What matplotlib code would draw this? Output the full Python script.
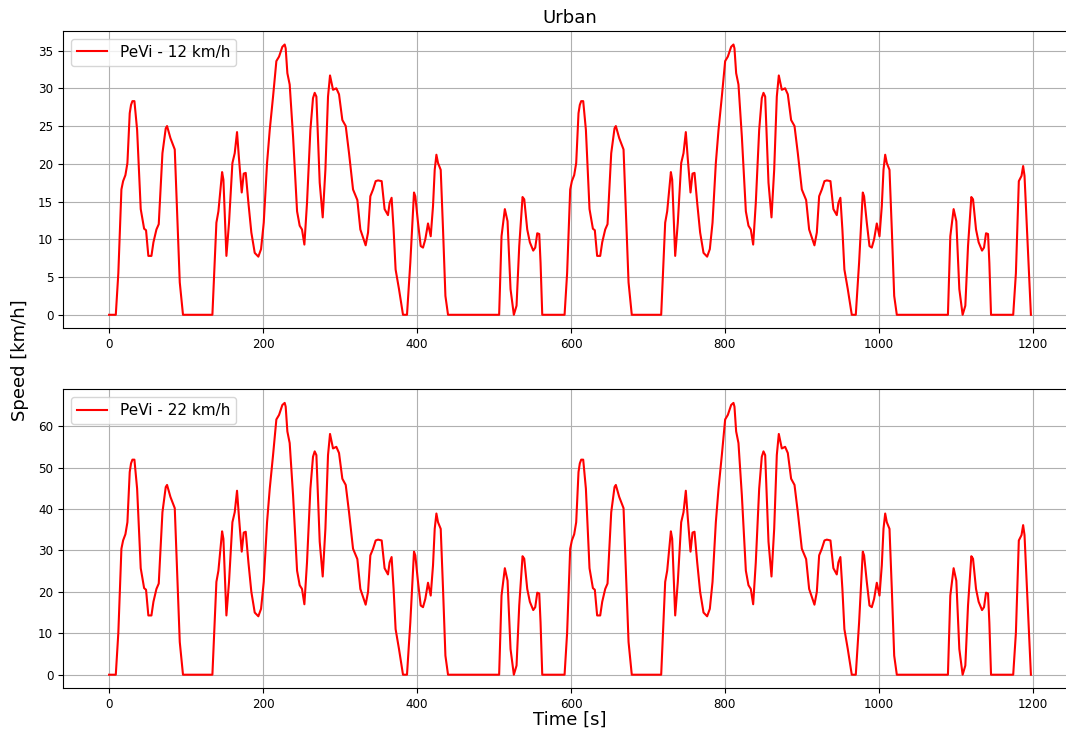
import matplotlib
matplotlib.use('Agg')
import matplotlib.pyplot as plt

# ---- time axis [s], first and second pass of the urban cycle ----
time_a = [0, 8.7, 12, 16, 18.2, 21.2, 23.8, 26.8, 28.5, 30.3,
          32.9, 36.4, 41.1, 45.5, 48, 51, 55, 57.6, 61.5, 64.5,
          69.3, 73.6, 75.3, 79.7, 85.3, 88.3, 91.8, 96, 134.2, 139.4,
          142, 146.8, 148.5, 152.4, 155.8, 160.2, 163.2, 166.2, 168.8, 172.3,
          174.9, 177.5, 181, 184.8, 189.2, 193.9, 197.4, 200.9, 205.2, 208.7,
          213, 217.3, 220.8, 225.1, 228.1, 229.4, 231.6, 234.6, 239, 244.2,
          247.6, 250.6, 253.7, 257.1, 261.5, 264.9, 267.1, 269.3, 273.6, 277.5,
          281, 284.4, 287, 290.9, 295.2, 298.7, 303, 307.4, 311.7, 316.9,
          322.5, 326.4, 330.7, 333.3, 336.4, 339.4, 342.9, 346.3, 349.4, 354.1,
          357.9, 362.3, 364.4, 367, 369.6, 372.2, 376.6, 381.8, 387, 391.3,
          396.1, 397.8, 401.3, 404.8, 407.8, 410.8, 414.3, 417.8, 420.8, 423,
          425.2, 427.3, 430.8, 433.8, 436.9, 440.3, 506.7, 509.8, 514.1, 517.6,
          521.5, 525.8, 529.3, 532.8, 537.1, 539.3, 543.2, 546.6, 551, 553.6,
          556.2, 558.8, 560.5, 562.7]

time_b = [591.7, 595, 599, 601.2, 604.2, 606.8, 609.8, 611.5, 613.3,
          615.9, 619.4, 624.1, 628.5, 631, 634, 638, 640.6, 644.5, 647.5,
          652.3, 656.6, 658.3, 662.7, 668.3, 671.3, 674.8, 679, 717.2, 722.4,
          725, 729.8, 731.5, 735.4, 738.8, 743.2, 746.2, 749.2, 751.8, 755.3,
          757.9, 760.5, 764, 767.8, 772.2, 776.9, 780.4, 783.9, 788.2, 791.7,
          796, 800.3, 803.8, 808.1, 811.1, 812.4, 814.6, 817.6, 822, 827.2,
          830.6, 833.6, 836.7, 840.1, 844.5, 847.9, 850.1, 852.3, 856.6, 860.5,
          864, 867.4, 870, 873.9, 878.2, 881.7, 886, 890.4, 894.7, 899.9,
          905.5, 909.4, 913.7, 916.3, 919.4, 922.4, 925.9, 929.3, 932.4, 937.1,
          940.9, 945.3, 947.4, 950, 952.6, 955.2, 959.6, 964.8, 970, 974.3,
          979.1, 980.8, 984.3, 987.8, 990.8, 993.8, 997.3, 1000.8, 1003.8, 1006,
          1008.2, 1010.3, 1013.8, 1016.8, 1019.9, 1023.3, 1089.7, 1092.8, 1097.1, 1100.6,
          1104.5, 1108.8, 1112.3, 1115.8, 1120.1, 1122.3, 1126.2, 1129.6, 1134, 1136.6,
          1139.2, 1141.8, 1143.5, 1145.7]

time_end = [1174.5, 1178, 1181.8, 1185.3, 1187.4, 1189.2, 1197.5]

# ---- speed [km/h], PeVi 12 km/h ----
speed12_a = [0, 0, 5.5, 16.6, 17.7, 18.5, 20.1, 26.7, 27.8, 28.3,
             28.3, 24.5, 14.0, 11.4, 11.2, 7.8, 7.8, 9.6, 11.3, 12.0,
             21.4, 24.7, 25.0, 23.4, 21.9, 13.7, 4.3, 0, 0, 12.2,
             13.7, 18.9, 17.9, 7.8, 12.2, 20.1, 21.4, 24.2, 20.6, 16.2,
             18.7, 18.8, 14.8, 10.9, 8.2, 7.7, 8.7, 12.2, 20.1, 24.5,
             28.9, 33.6, 34.2, 35.5, 35.8, 35.3, 32.0, 30.5, 23.6, 13.7,
             11.8, 11.3, 9.3, 14.8, 24.5, 28.7, 29.4, 28.9, 17.5, 12.9,
             19.2, 28.9, 31.7, 29.8, 30.0, 29.2, 25.8, 25.0, 21.4, 16.6,
             15.2, 11.3, 10.0, 9.2, 10.9, 15.7, 16.6, 17.7, 17.8, 17.7,
             14.0, 13.2, 14.8, 15.5, 11.3, 6.0, 3.4, 0, 0, 6.9,
             16.2, 15.7, 12.2, 9.1, 8.9, 10.0, 12.1, 10.4, 14.4, 19.2,
             21.2, 20.1, 19.2, 11.3, 2.5, 0, 0, 10.4, 14.0, 12.4,
             3.4, 0, 1.2, 9.1, 15.6, 15.3, 11.3, 9.6, 8.5, 8.9,
             10.8, 10.7, 6.9, 0]

speed12_b = [0, 5.5, 16.6, 17.7, 18.5, 20.1, 26.7, 27.8, 28.3,
             28.3, 24.5, 14.0, 11.4, 11.2, 7.8, 7.8, 9.6, 11.3, 12.0,
             21.4, 24.7, 25.0, 23.4, 21.9, 13.7, 4.3, 0, 0, 12.2,
             13.7, 18.9, 17.9, 7.8, 12.2, 20.1, 21.4, 24.2, 20.6, 16.2,
             18.7, 18.8, 14.8, 10.9, 8.2, 7.7, 8.7, 12.2, 20.1, 24.5,
             28.9, 33.6, 34.2, 35.5, 35.8, 35.3, 32.0, 30.5, 23.6, 13.7,
             11.8, 11.3, 9.3, 14.8, 24.5, 28.7, 29.4, 28.9, 17.5, 12.9,
             19.2, 28.9, 31.7, 29.8, 30.0, 29.2, 25.8, 25.0, 21.4, 16.6,
             15.2, 11.3, 10.0, 9.2, 10.9, 15.7, 16.6, 17.7, 17.8, 17.7,
             14.0, 13.2, 14.8, 15.5, 11.3, 6.0, 3.4, 0, 0, 6.9,
             16.2, 15.7, 12.2, 9.1, 8.9, 10.0, 12.1, 10.4, 14.4, 19.2,
             21.2, 20.1, 19.2, 11.3, 2.5, 0, 0, 10.4, 14.0, 12.4,
             3.4, 0, 1.2, 9.1, 15.6, 15.3, 11.3, 9.6, 8.5, 8.9,
             10.8, 10.7, 6.9, 0]

speed12_end = [0, 5.5, 17.7, 18.4, 19.7, 18.4, 0]

# ---- speed [km/h], PeVi 22 km/h ----
speed22_a = [0, 0, 10.1, 30.4, 32.4, 33.9, 36.8, 48.9, 51.0, 51.9,
             51.9, 44.9, 25.7, 20.9, 20.5, 14.3, 14.3, 17.6, 20.7, 22.0,
             39.2, 45.3, 45.8, 42.9, 40.2, 25.1, 7.9, 0, 0, 22.4,
             25.1, 34.6, 32.8, 14.3, 22.4, 36.8, 39.2, 44.4, 37.8, 29.7,
             34.3, 34.5, 27.1, 20.0, 15.0, 14.1, 15.9, 22.4, 36.8, 44.9,
             53.0, 61.6, 62.7, 65.1, 65.6, 64.7, 58.7, 55.9, 43.3, 25.1,
             21.6, 20.7, 17.0, 27.1, 44.9, 52.6, 53.9, 53.0, 32.1, 23.7,
             35.2, 53.0, 58.1, 54.6, 55.0, 53.5, 47.3, 45.8, 39.2, 30.4,
             27.9, 20.7, 18.3, 16.9, 20.0, 28.8, 30.4, 32.4, 32.6, 32.4,
             25.7, 24.2, 27.1, 28.4, 20.7, 11.0, 6.2, 0, 0, 12.6,
             29.7, 28.8, 22.4, 16.7, 16.3, 18.3, 22.2, 19.1, 26.4, 35.2,
             38.9, 36.8, 35.2, 20.7, 4.6, 0, 0, 19.1, 25.7, 22.7,
             6.2, 0, 2.2, 16.7, 28.6, 28.0, 20.7, 17.6, 15.6, 16.3,
             19.8, 19.6, 12.6, 0]

speed22_b = [0, 10.1, 30.4, 32.4, 33.9, 36.8, 48.9, 51.0, 51.9,
             51.9, 44.9, 25.7, 20.9, 20.5, 14.3, 14.3, 17.6, 20.7, 22.0,
             39.2, 45.3, 45.8, 42.9, 40.2, 25.1, 7.9, 0, 0, 22.4,
             25.1, 34.6, 32.8, 14.3, 22.4, 36.8, 39.2, 44.4, 37.8, 29.7,
             34.3, 34.5, 27.1, 20.0, 15.0, 14.1, 15.9, 22.4, 36.8, 44.9,
             53.0, 61.6, 62.7, 65.1, 65.6, 64.7, 58.7, 55.9, 43.3, 25.1,
             21.6, 20.7, 17.0, 27.1, 44.9, 52.6, 53.9, 53.0, 32.1, 23.7,
             35.2, 53.0, 58.1, 54.6, 55.0, 53.5, 47.3, 45.8, 39.2, 30.4,
             27.9, 20.7, 18.3, 16.9, 20.0, 28.8, 30.4, 32.4, 32.6, 32.4,
             25.7, 24.2, 27.1, 28.4, 20.7, 11.0, 6.2, 0, 0, 12.6,
             29.7, 28.8, 22.4, 16.7, 16.3, 18.3, 22.2, 19.1, 26.4, 35.2,
             38.9, 36.8, 35.2, 20.7, 4.6, 0, 0, 19.1, 25.7, 22.7,
             6.2, 0, 2.2, 16.7, 28.6, 28.0, 20.7, 17.6, 15.6, 16.3,
             19.8, 19.6, 12.6, 0]

speed22_end = [0, 10.1, 32.4, 33.7, 36.1, 33.7, 0]

labels = ['PeVi - 12 km/h', 'PeVi - 22 km/h']


time = time_a + time_b + time_end
speed12 = speed12_a + speed12_b + speed12_end
speed22 = speed22_a + speed22_b + speed22_end

W, H = 1066, 736
fig = plt.figure(figsize=(W / 100, H / 100), dpi=100)

# axes placed in pixels (left, top, right, bottom), right edge runs past the figure
ax1 = fig.add_axes([63 / W, 1 - 328.3 / H, (1077 - 63) / W, (328.3 - 31) / H])
ax2 = fig.add_axes([63 / W, 1 - 688.3 / H, (1077 - 63) / W, (688.3 - 389.3) / H])

for ax, speed, lab in [(ax1, speed12, labels[0]), (ax2, speed22, labels[1])]:
    ax.plot(time, speed, color='red', lw=1.5, label=lab)
    ax.grid(True, color='#b0b0b0', lw=0.8)
    ax.set_axisbelow(True)
    ax.tick_params(labelsize=8.6)
    ax.legend(loc='upper left', fontsize=11)

ax1.set_title('Urban', fontsize=13)
fig.text(20 / W, 1 - 360 / H, 'Speed [km/h]', rotation=90, ha='center', va='center', fontsize=13)
fig.text(570 / W, 1 - 720 / H, 'Time [s]', ha='center', va='center', fontsize=13)

fig.savefig('out.png', dpi=100)
